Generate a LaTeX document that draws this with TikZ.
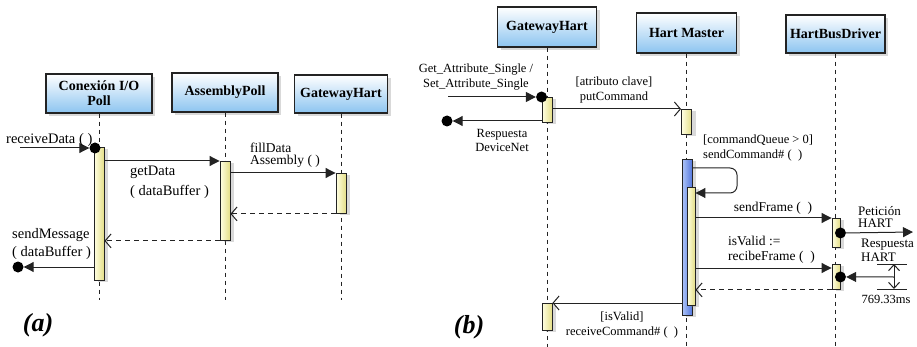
\documentclass[tikz,border=0pt]{standalone}
\usepackage{fontspec}
\setmainfont{Liberation Serif}
\usetikzlibrary{arrows.meta,shadows,calc}

\definecolor{boxbot}{RGB}{140,196,240}
\definecolor{actl}{RGB}{255,255,228}
\definecolor{actr}{RGB}{228,222,135}
\definecolor{bluel}{RGB}{175,198,248}
\definecolor{bluer}{RGB}{85,120,222}
\definecolor{ln}{RGB}{35,35,35}

\tikzset{
  objbox/.style={draw=ln, line width=1.3pt, top color=white, bottom color=boxbot,
    font=\fontsize{14}{15}\selectfont\bfseries, align=center, inner sep=0pt,
    drop shadow={opacity=0.3, shadow xshift=3pt, shadow yshift=-3pt}},
  lifeline/.style={draw=ln, line width=1pt, dash pattern=on 4pt off 4pt},
  actbar/.style={draw=ln, line width=0.9pt, left color=actl, right color=actr,
    minimum width=10pt, inner sep=0pt, anchor=north,
    drop shadow={opacity=0.3, shadow xshift=4pt, shadow yshift=-2pt}},
  bluebar/.style={actbar, left color=bluel, right color=bluer},
  msg/.style={draw=ln, line width=1pt, -{Triangle[length=10pt,width=10pt]}},
  reply/.style={draw=ln, line width=1pt, -{Straight Barb[length=6pt,width=14pt,line width=1pt]}},
  ret/.style={reply, dash pattern=on 5pt off 4pt},
  dot/.style={circle, fill=black, minimum size=11pt, inner sep=0pt},
  lblA/.style={font=\fontsize{14.5}{20}\selectfont, inner sep=0pt},
  lblB/.style={font=\fontsize{12.5}{15}\selectfont, inner sep=0pt},
  panel/.style={font=\fontsize{26}{28}\selectfont\bfseries\itshape, inner sep=0pt},
}

\begin{document}
\begin{tikzpicture}[x=1pt, y=-1pt]
\useasboundingbox (0,0) rectangle (917,347);

% ---------------- (a) ----------------
\node[objbox, minimum width=106pt, minimum height=39pt] (cio) at (99,93.5) {Conexión I/O\\Poll};
\node[objbox, minimum width=106pt, minimum height=39pt] (asp) at (225,92.5) {AssemblyPoll};
\node[objbox, minimum width=93pt, minimum height=38pt] (gwa) at (341,94) {GatewayHart};

\coordinate (cioEnd) at (99,300);
\coordinate (aspEnd) at (225,300);
\coordinate (gwaEnd) at (341,300);
\draw[lifeline] (cio.south) -- (cioEnd);
\draw[lifeline] (asp.south) -- (aspEnd);
\draw[lifeline] (gwa.south) -- (gwaEnd);

\node[actbar, minimum height=133pt] (a1) at (99,147) {};
\node[actbar, minimum height=79pt] (a2) at (225,161) {};
\node[actbar, minimum height=40pt] (a3) at (341,173) {};

% receiveData (found)
\coordinate (rdS) at (20,148);
\node[dot] (rdDot) at (95,148) {};
\draw[msg] (rdS) -- (rdDot.west);
\node[lblA, anchor=west] (trd) at (6,140) {receiveData ( )};

% getData
\draw[msg] (a1.east |- a2.north) -- (a2.north west);
\node[lblA, anchor=west, align=left] (tgd) at (130,182) {getData\\( dataBuffer )};

% fillData
\draw[msg] (a2.east |- a3.north) -- (a3.north west);
\node[lblA, anchor=west, align=left, font=\fontsize{13.5}{12}\selectfont] (tfd) at (250,155) {fillData\\Assembly ( )};

% returns
\draw[ret] (a3.south west) -- (a2.east |- a3.south);
\draw[ret] (a2.south west) -- (a1.east |- a2.south);

% sendMessage (lost)
\node[dot] (smDot) at (18,267) {};
\draw[msg] (a1.west |- smDot) -- (smDot.east);
\node[lblA, anchor=west, align=left, font=\fontsize{14.5}{18}\selectfont] (tsm) at (12,244) {sendMessage\\( dataBuffer )};

\node[panel] (pa) at (38,325) {(a)};

% ---------------- (b) ----------------
\node[objbox, minimum width=99pt, minimum height=40pt] (gwb) at (547,27) {GatewayHart};
\node[objbox, minimum width=100pt, minimum height=40pt] (hm) at (686.5,33) {Hart Master};
\node[objbox, minimum width=99pt, minimum height=38pt] (hbd) at (835.5,34) {HartBusDriver};

\coordinate (gwbEnd) at (547,347);
\coordinate (hmEnd) at (686.5,347);
\coordinate (hbdEnd) at (835.5,347);
\draw[lifeline] (gwb.south) -- (gwbEnd);
\draw[lifeline] (hm.south) -- (hmEnd);
\draw[lifeline] (hbd.south) -- (hbdEnd);

\node[actbar, minimum height=25pt] (b1) at (547,97) {};
\node[actbar, minimum height=25pt] (b2) at (686.5,109) {};
\node[bluebar, minimum height=156pt] (bb) at (687,159) {};
\node[actbar, minimum width=8pt, minimum height=118pt] (b3) at (691,187) {};
\node[actbar, minimum width=8pt, minimum height=29pt] (b4) at (836,218) {};
\node[actbar, minimum width=8pt, minimum height=25pt] (b5) at (836,264) {};
\node[actbar, minimum height=27pt] (b6) at (547,303) {};

% Get/Set attribute (found)
\coordinate (gaS) at (448,97);
\node[dot] (gaDot) at (b1.north west) {};
\draw[msg] (gaS) -- (gaDot.west);
\node[lblB, align=center] (tga) at (476,77.5) {Get\_Attribute\_Single /\\Set\_Attribute\_Single};

% Respuesta DeviceNet (lost)
\node[dot] (rdnDot) at (447,121) {};
\draw[msg] (b1.west |- rdnDot) -- (rdnDot.east);
\node[lblB, align=center, font=\fontsize{12.5}{14}\selectfont] (trdn) at (502,140) {Respuesta\\DeviceNet};

% putCommand
\draw[reply] (b1.east |- b2.north) -- (b2.north west);
\node[lblB, align=center] (tpc) at (614,90) {[atributo clave]\\putCommand};

% self message sendCommand#
\coordinate (selfA) at (737,168);
\coordinate (selfB) at (737,193);
\draw[msg, rounded corners=7pt] (bb.east |- selfA) -- (selfA) -- (selfB) -- (b3.east |- selfB);
\node[lblB, anchor=west, align=left] (tsc) at (703,147.5) {[commandQueue > 0]\\sendCommand\# ( \ )};

% sendFrame
\draw[msg] (b3.east |- b4.north) -- (b4.north west);
\node[lblB, font=\fontsize{13.5}{15}\selectfont] (tsf) at (773,208) {sendFrame ( \ )};

% Petición HART
\node[dot] (petDot) at (b4.east) {};
\coordinate (petEnd) at (913,232);
\draw[msg] (petDot.east) -- (petEnd);
\node[lblB, anchor=west, align=left, font=\fontsize{13}{12}\selectfont] (tpet) at (858,217) {Petición\\HART};

% isValid := recibeFrame
\coordinate (ivY) at (0,268);
\draw[msg] (b3.east |- ivY) -- (b5.west |- ivY);
\node[lblB, anchor=west, align=left, font=\fontsize{13.5}{15}\selectfont] (tiv) at (728,249.5) {isValid :=\\recibeFrame ( \ )};

% Respuesta HART with time dimension
\node[dot] (rhDot) at (b5.east) {};
\coordinate (dimT) at (894,264);
\coordinate (dimB) at (894,289);
\coordinate (dimM) at (894,277);
\coordinate (tickTL) at (877,264);
\coordinate (tickTR) at (907,264);
\coordinate (tickBL) at (877,289);
\coordinate (tickBR) at (907,289);
\draw[msg] (dimM) -- (rhDot.east);
\draw[draw=ln, line width=1pt] (tickTL) -- (tickTR);
\draw[draw=ln, line width=1pt] (tickBL) -- (tickBR);
\draw[draw=ln, line width=1pt, {Straight Barb[length=6pt,width=11pt]}-{Straight Barb[length=6pt,width=11pt]}] (dimT) -- (dimB);
\node[lblB, anchor=west, align=left, font=\fontsize{13}{14}\selectfont] (trh) at (861,250) {Respuesta\\HART};
\node[lblB, font=\fontsize{12.5}{14}\selectfont] (tms) at (886,299) {769.33ms};

% return from recibeFrame
\draw[ret] (b5.south west) -- (b3.east |- b5.south);

% receiveCommand#
\draw[reply] (bb.west |- b6.north) -- (b6.north east);
\node[lblB, align=center, font=\fontsize{12.5}{15}\selectfont] (trc) at (622,324.5) {[isValid]\\receiveCommand\# ( \ )};

\node[panel] (pb) at (469,327) {(b)};
\end{tikzpicture}
\end{document}
